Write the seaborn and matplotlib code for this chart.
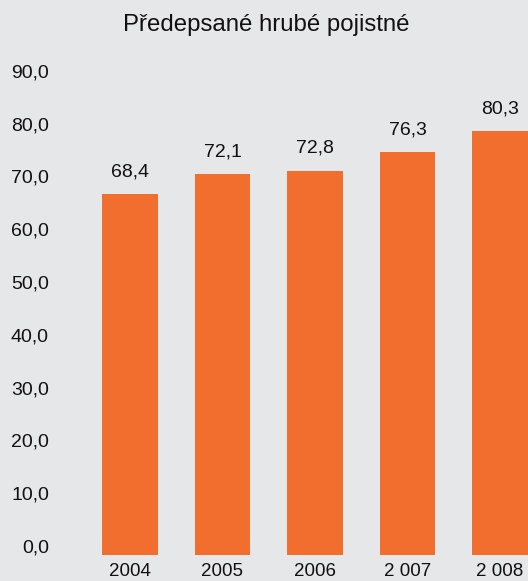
import matplotlib
matplotlib.use("Agg")
import matplotlib.pyplot as plt
from matplotlib.transforms import ScaledTranslation
import seaborn as sns
import pandas as pd

years = ["2004", "2005", "2006", "2 007", "2 008"]
values = [68.4, 72.1, 72.8, 76.3, 80.3]
value_labels = ["68,4", "72,1", "72,8", "76,3", "80,3"]
yticks = [0, 10, 20, 30, 40, 50, 60, 70, 80, 90]
ytick_labels = ["0,0", "10,0", "20,0", "30,0", "40,0", "50,0", "60,0", "70,0", "80,0", "90,0"]
title = "Předepsané hrubé pojistné"

BG = "#e6e7e9"
ORANGE = "#f26e2f"

sns.set_theme(style="white")
plt.rcParams["font.family"] = ["Liberation Sans", "DejaVu Sans"]

W, H = 528, 581
fig = plt.figure(figsize=(W / 100, H / 100), dpi=100, facecolor=BG)
ax_left, ax_right = 60, 528
ax_top, ax_bottom = 60, 555
ax = fig.add_axes([ax_left / W, (H - ax_bottom) / H, (ax_right - ax_left) / W, (ax_bottom - ax_top) / H])
ax.set_facecolor(BG)

df = pd.DataFrame({"year": years, "value": values})
sns.barplot(data=df, x="year", y="value", color=ORANGE, saturation=1, width=0.605,
            ax=ax, order=years, linewidth=0, edgecolor=ORANGE)

ax.set_xlim((ax_left - 130) / 92.5, (ax_right - 130) / 92.5)
ax.set_ylim(0, (ax_bottom - ax_top) / 5.28)

for s in ax.spines.values():
    s.set_visible(False)
ax.grid(False)
ax.set_xlabel("")
ax.set_ylabel("")

ax.set_yticks(yticks)
ax.set_yticklabels(ytick_labels, fontsize=14, color="#111111")
ax.tick_params(axis="y", length=0, pad=8)
for lab in ax.get_yticklabels():
    lab.set_transform(lab.get_transform() + ScaledTranslation(0, 9 / 100, fig.dpi_scale_trans))

ax.set_xticks(range(len(years)))
ax.set_xticklabels(years, fontsize=13.5, color="#111111")
ax.tick_params(axis="x", length=0, pad=6)

for i, (v, lbl) in enumerate(zip(values, value_labels)):
    ax.annotate(lbl, (i, v), xytext=(0, 16), textcoords="offset points",
                ha="center", va="center", fontsize=14, color="#111111")

fig.text(266 / W, 1 - 25 / H, title, ha="center", va="center", fontsize=17.3, color="#111111")

fig.savefig("out.png", dpi=100, facecolor=BG)
